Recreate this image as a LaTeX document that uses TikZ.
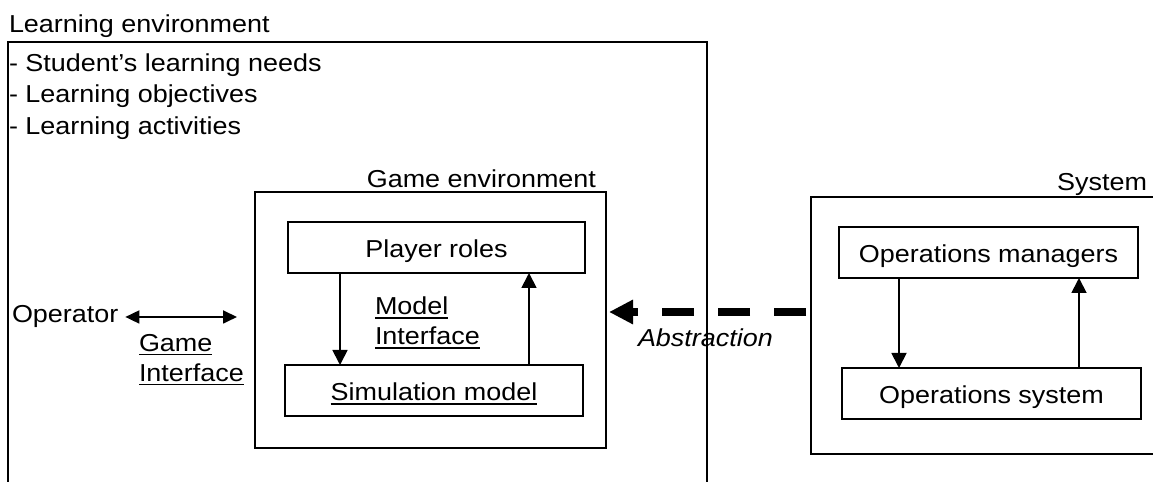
\documentclass[tikz,border=0pt]{standalone}
\usepackage{fontspec}
\setmainfont{Liberation Sans}[FakeStretch=1.1]
\usetikzlibrary{arrows.meta}
% underlined word: rule just below the baseline, baseline kept
\newcommand\ulin[1]{\vtop{\hbox{#1}\kern2.2bp\hrule height 1.8bp}}
\begin{document}
\begin{tikzpicture}[x=1bp,y=-1bp,
  font=\fontsize{24.5bp}{30bp}\selectfont,
  frame/.style={line width=1.9bp},
  envbox/.style={draw, line width=1.7bp, inner sep=0pt, outer sep=0pt},
  blk/.style={draw, line width=1.7bp, minimum height=51bp, inner sep=0pt,
    outer sep=0pt, text height=19.6bp, text depth=0bp},
  txt/.style={inner sep=0pt, outer sep=0pt},
  flow/.style={line width=1.8bp, -{Triangle[length=15bp,width=15bp]}},
  ]
\useasboundingbox (0,0) rectangle (1153,482);

% ---- learning environment (runs on past the bottom edge)
\coordinate (leBL) at (8,482);
\coordinate (leTR) at (707,42);
\coordinate (leBR) at (707,482);
\draw[frame] (leBL) |- (leTR) -- (leBR);
\node[txt, anchor=base west] (leT) at (9,32.5) {Learning environment};
\node[txt, anchor=base west] (le1) at (9,71.5) {- Student’s learning needs};
\node[txt, anchor=base west] (le2) at (9,103) {- Learning objectives};
\node[txt, anchor=base west] (le3) at (9,135) {- Learning activities};

% ---- operator and game interface
\node[txt, anchor=base west] (op) at (12,323) {Operator};
\coordinate (gin) at (237,316);
\coordinate (opR) at ([xshift=7bp]op.east);
\draw[line width=1.8bp, {Triangle[length=14bp,width=13bp]}-{Triangle[length=14bp,width=13bp]}]
  (opR) -- (opR -| gin);
\node[txt, anchor=north west, align=left] (gi) at (139,334)
  {\ulin{Game}\\\ulin{Interface}};

% ---- game environment
\node[envbox, minimum width=351bp, minimum height=256bp, anchor=north west]
  (game) at (255,192) {};
\node[txt, anchor=base east] (gameT) at (596,188) {Game environment};
\node[blk, minimum width=297bp] (pr) at (436.5,247.5) {Player roles};
\node[blk, minimum width=298bp] (sm) at (434,390.5) {\ulin{Simulation model}};
\coordinate (x1) at (340,0);
\coordinate (x2) at (529,0);
\draw[flow] (pr.south -| x1) -- (sm.north -| x1);
\draw[flow] (sm.north -| x2) -- (pr.south -| x2);
\node[txt, anchor=north west, align=left] (mi) at (375,297)
  {\ulin{Model}\\\ulin{Interface}};

% ---- system (runs on past the right edge)
\coordinate (sysTR) at (1153,197);
\coordinate (sysBL) at (811,454);
\coordinate (sysBR) at (1153,454);
\draw[envbox] (sysTR) -| (sysBL) -- (sysBR);
\node[txt, anchor=base east] (sysT) at (1147,191) {System};
\node[blk, minimum width=299bp] (om) at (988.5,252.5) {Operations managers};
\node[blk, minimum width=299bp] (os) at (991.5,393.5) {Operations system};
\coordinate (x3) at (899,0);
\coordinate (x4) at (1079,0);
\draw[flow] (om.south -| x3) -- (os.north -| x3);
\draw[flow] (os.north -| x4) -- (om.south -| x4);

% ---- abstraction
\coordinate (absFrom) at (806,312);
\coordinate (absTo) at (609,312);
\draw[line width=8bp, dash pattern=on 32bp off 24bp,
  -{Triangle[length=24bp,width=23bp]}] (absFrom) -- (absTo);
\node[txt, anchor=base west, font=\fontsize{24.5bp}{30bp}\selectfont\itshape]
  (abs) at (638,347) {Abstraction};
\end{tikzpicture}
\end{document}
